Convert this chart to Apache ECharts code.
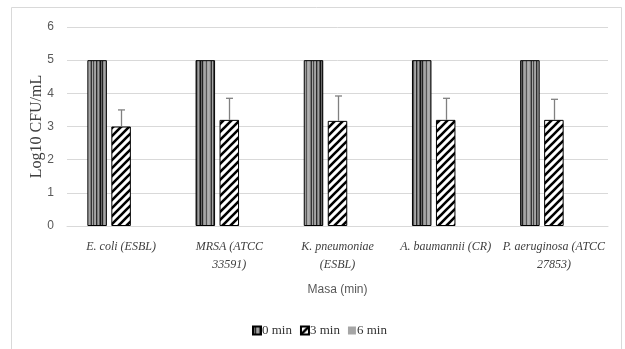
<!DOCTYPE html>
<html>
<head>
<meta charset="utf-8">
<script src="https://cdn.jsdelivr.net/npm/echarts@6/dist/echarts.min.js"></script>
<style>
html,body{margin:0;padding:0;background:#fff;}
#chart{width:625px;height:349px;}
</style>
</head>
<body>
<div id="chart"></div>
<script>
// ---- data ----
var categories = ["E. coli (ESBL)", "MRSA (ATCC\n33591)", "K. pneumoniae\n(ESBL)", "A. baumannii (CR)", "P. aeruginosa (ATCC\n27853)"];
var seriesNames = ["0 min", "3 min", "6 min"];
var values0 = [5, 5, 5, 5, 5];
var values3 = [3.0, 3.2, 3.17, 3.2, 3.2];
var values6 = [0, 0, 0, 0, 0];
var errUp3 = [0.5, 0.65, 0.75, 0.65, 0.62];
var yTicks = [0, 1, 2, 3, 4, 5, 6];

// ---- patterns ----
function stripePattern() {
  var cols = ['#111111','#6a6a6a','#222222','#8c8c8c','#a6a6a6','#9a9a9a','#555555','#a6a6a6','#b0b0b0','#a6a6a6','#7a7a7a','#333333','#a6a6a6','#4a4a4a','#9a9a9a','#a6a6a6','#2a2a2a','#7a7a7a','#a0a0a0','#5a5a5a'];
  var c = document.createElement('canvas');
  c.width = cols.length; c.height = 4;
  var ctx = c.getContext('2d');
  for (var i = 0; i < cols.length; i++) { ctx.fillStyle = cols[i]; ctx.fillRect(i, 0, 1, 4); }
  return c;
}
function hatchPattern() {
  var s = 8;
  var c = document.createElement('canvas');
  c.width = s; c.height = s;
  var ctx = c.getContext('2d');
  ctx.fillStyle = '#fff'; ctx.fillRect(0, 0, s, s);
  ctx.strokeStyle = '#000'; ctx.lineWidth = 2.6;
  ctx.beginPath();
  ctx.moveTo(-1, s + 1); ctx.lineTo(s + 1, -1);
  ctx.moveTo(-1, 1); ctx.lineTo(1, -1);
  ctx.moveTo(s - 1, s + 1); ctx.lineTo(s + 1, s - 1);
  ctx.stroke();
  return c;
}

var chart = echarts.init(document.getElementById('chart'), null, {renderer: 'canvas'});
var serif = '"Liberation Serif", "DejaVu Serif", serif';
var sans = '"Liberation Sans", "DejaVu Sans", sans-serif';

var errData = values3.map(function (v, i) { return [i, v, v + errUp3[i]]; });

var option = {
  animation: false,
  backgroundColor: '#fff',
  graphic: [{
    type: 'rect', silent: true, z: -1,
    shape: {x: 11.5, y: 7.5, width: 610, height: 400},
    style: {fill: 'none', stroke: '#d9d9d9', lineWidth: 1}
  }],
  grid: {left: 67, right: 17, top: 27, bottom: 123},
  legend: {
    data: seriesNames,
    left: 252, top: 324, padding: 0,
    itemWidth: 8, itemHeight: 8, itemGap: 8,
    icon: 'rect',
    textStyle: {fontFamily: serif, fontSize: 13, color: '#333333', padding: [0, 0, 0, -4]}
  },
  xAxis: {
    type: 'category',
    data: categories,
    name: 'Masa (min)',
    nameLocation: 'middle',
    nameGap: 58,
    nameTextStyle: {fontFamily: sans, fontSize: 12, color: '#595959'},
    axisLine: {show: true, lineStyle: {color: '#d9d9d9'}},
    axisTick: {show: false},
    axisLabel: {
      interval: 0, margin: 12,
      fontFamily: serif, fontStyle: 'italic', fontSize: 12, color: '#404040', lineHeight: 18
    }
  },
  yAxis: {
    type: 'value',
    min: 0, max: 6, interval: 1,
    name: 'Log10 CFU/mL',
    nameLocation: 'middle',
    nameRotate: 90,
    nameGap: 22,
    nameMoveOverlap: false,
    nameTextStyle: {fontFamily: serif, fontSize: 16, color: '#404040'},
    axisLine: {show: false},
    axisTick: {show: false},
    axisLabel: {
      margin: 13, fontFamily: sans, fontSize: 12, color: '#595959',
      formatter: function (v) { return yTicks.indexOf(v) >= 0 ? String(v) : ''; }
    },
    splitLine: {lineStyle: {color: '#d9d9d9', width: 1}}
  },
  series: [
    {
      name: seriesNames[0], type: 'bar', data: values0,
      barWidth: 19.5, barGap: '23%',
      itemStyle: {color: {image: stripePattern(), repeat: 'repeat'}, borderColor: '#000', borderWidth: 1}
    },
    {
      name: seriesNames[1], type: 'bar', data: values3,
      barWidth: 19.5, barGap: '23%',
      itemStyle: {color: {image: hatchPattern(), repeat: 'repeat'}, borderColor: '#000', borderWidth: 1}
    },
    {
      name: seriesNames[2], type: 'bar', data: values6,
      barWidth: 19.5, barGap: '23%',
      itemStyle: {color: '#a6a6a6'}
    },
    {
      name: 'err', type: 'custom', data: errData, z: 5,
      renderItem: function (params, api) {
        var i = api.value(0);
        var p0 = api.coord([i, api.value(1)]);
        var p1 = api.coord([i, api.value(2)]);
        var x = Math.round(p0[0]) + 0.5;
        var hw = 3.5;
        return {
          type: 'group',
          children: [
            {type: 'line', shape: {x1: x, y1: p0[1], x2: x, y2: p1[1]}, style: {stroke: '#808080', lineWidth: 1.3}},
            {type: 'line', shape: {x1: x - hw, y1: p1[1], x2: x + hw, y2: p1[1]}, style: {stroke: '#808080', lineWidth: 1.3}}
          ]
        };
      }
    }
  ]
};
chart.setOption(option);
</script>
</body>
</html>
